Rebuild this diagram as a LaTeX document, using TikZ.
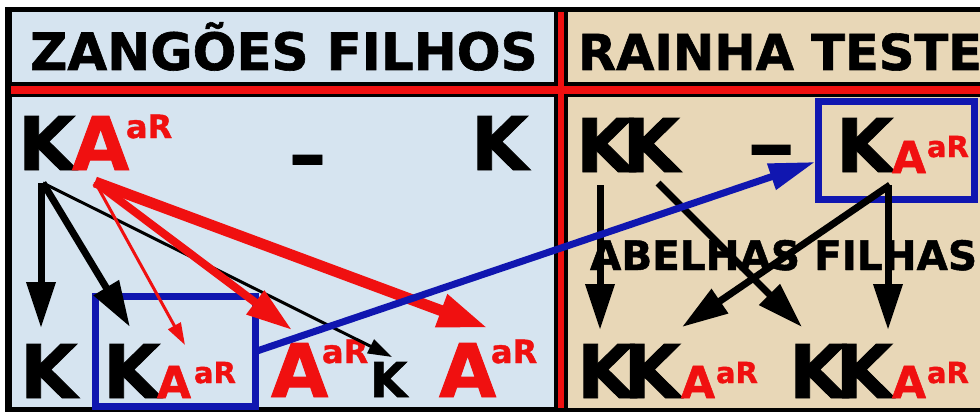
\documentclass[tikz,border=0pt]{standalone}
\usepackage{fontspec}
\usepackage{graphicx}
\usetikzlibrary{arrows.meta}
\newfontfamily\dvs{DejaVu Sans}[BoldFeatures={FakeBold=1.2}]
\definecolor{lblue}{RGB}{214,228,240}
\definecolor{beige}{RGB}{232,215,183}
\definecolor{tred}{RGB}{240,16,16}
\definecolor{tblue}{RGB}{16,22,176}
\newcommand\fsz[1]{\dvs\bfseries\fontsize{#1}{#1}\selectfont}
\tikzset{
  txt/.style={inner sep=0pt, outer sep=0pt, anchor=base west},
  hdr/.style={txt, font=\fsz{51.5}},
  hdrr/.style={txt, font=\fsz{49.5}},
  big/.style={txt, font=\fsz{74}},
  bigA/.style={txt, text=tred, font=\fsz{74}},
  midA/.style={txt, text=tred, font=\fsz{44}},
  smallk/.style={txt, font=\fsz{48}},
  supb/.style={txt, text=tred, font=\fsz{32}},
  supm/.style={txt, text=tred, font=\fsz{29}},
  abf/.style={txt, font=\fsz{40.5}},
  blk/.style={draw=black, line width=7pt, -{Triangle[length=46pt,width=28pt]}},
  blkthin/.style={draw=black, line width=3pt, -{Triangle[length=24pt,width=15pt]}},
  redthin/.style={draw=tred, line width=3pt, -{Triangle[length=22pt,width=14pt]}},
  redthick/.style={draw=tred, line width=8pt, -{Triangle[length=46pt,width=28pt]}},
  redthicker/.style={draw=tred, line width=11pt, -{Triangle[length=50pt,width=32pt]}},
  bluearr/.style={draw=tblue, line width=7pt, -{Triangle[length=46pt,width=26pt]}},
  bluebox/.style={draw=tblue, line width=7pt, inner sep=0pt, outer sep=0pt, rectangle},
}
\begin{document}
\begin{tikzpicture}[x=1pt,y=-1pt]
\useasboundingbox (0,0) rectangle (980,412);
\fill[white] (0,0) rectangle (980,412);
% frame
\fill[black] (5,7) rectangle (980,412);
\fill[tred] (11,86) rectangle (980,94);
\fill[tred] (558,12) rectangle (564,408);
\fill[lblue] (12,12) rectangle (554,82);
\fill[lblue] (12,97) rectangle (554,407);
\fill[beige] (568,12) rectangle (980,82);
\fill[beige] (568,97) rectangle (980,408);
% headers
\node[hdr] (h1) at (30,70) {ZANGÕES FILHOS};
\node[hdrr] (h2) at (578,70) {RAINHA TESTE};
% left panel top row
\node[big] (k1) at (18,170) {K};
\node[bigA] (a1) at (72,170) {A};
\node[supb] (s1) at (126,138) {aR};
\node[big] (d1) at (289,180) {–};
\node[big] (k2) at (471,170) {K};
% left panel bottom row
\node[bluebox, minimum width=160pt, minimum height=110pt] (bx1) at (175.5,351.5) {};
\node[big] (k4) at (20,398) {K};
\node[big] (k5) at (103,398) {K};
\node[midA] (a5) at (157,398) {A};
\node[supm] (s5) at (194,383) {aR};
\node[bigA] (a6) at (271,397) {A};
\node[supb] (s6) at (322,363) {aR};
\node[smallk] (k7) at (370,397) {K};
\node[bigA] (a8) at (439,397) {A};
\node[supb] (s8) at (491,363) {aR};
% right panel
\node[big] (kk1) at (576,172) {K\kern-11pt K};
\node[big] (d2) at (747,170) {\scalebox{1.3}[1]{–}};
\node[bluebox, minimum width=156pt, minimum height=98pt] (bx2) at (896.5,150.5) {};
\node[big] (k3) at (836,172) {K};
\node[midA] (a3) at (892,173) {A};
\node[supm] (s3) at (927,157) {aR};
\node[abf] (ab) at (590,270) {ABELHAS FILHAS};
\node[big] (kk2) at (577,398) {K\kern-11pt K};
\node[midA] (a9) at (681,398) {A};
\node[supm] (s9) at (716,383) {aR};
\node[big] (kk3) at (789,398) {K\kern-11pt K};
\node[midA] (a10) at (892,398) {A};
\node[supm] (s10) at (927,383) {aR};
% arrow coordinates
\coordinate (o1) at (41,183);
\coordinate (o2) at (43,183);
\coordinate (r0) at (95,182);
\coordinate (t1) at (41,328);
\coordinate (t2) at (130,327);
\coordinate (t3) at (392,357);
\coordinate (t4) at (185,345);
\coordinate (t5) at (292,330);
\coordinate (t6) at (488,328);
\coordinate (bt) at (815,162);
\coordinate (p1) at (600,185);
\coordinate (q1) at (600,330);
\coordinate (p2) at (658,183);
\coordinate (q2) at (802,327);
\coordinate (p3) at (890,185);
\coordinate (q3) at (682,327);
\coordinate (p4) at (888,185);
\coordinate (q4) at (888,330);
% arrows
\draw[blk] (o1) -- (t1);
\draw[blk] (o2) -- (t2);
\draw[blkthin] (o2) -- (t3);
\draw[redthin] (r0) -- (t4);
\draw[redthick] (r0) -- (t5);
\draw[redthicker] (r0) -- (t6);
\draw[blk] (p1) -- (q1);
\draw[blk] (p2) -- (q2);
\draw[blk] (p3) -- (q3);
\draw[blk] (p4) -- (q4);
\draw[bluearr] (bx1.east) -- (bt);
\end{tikzpicture}
\end{document}
